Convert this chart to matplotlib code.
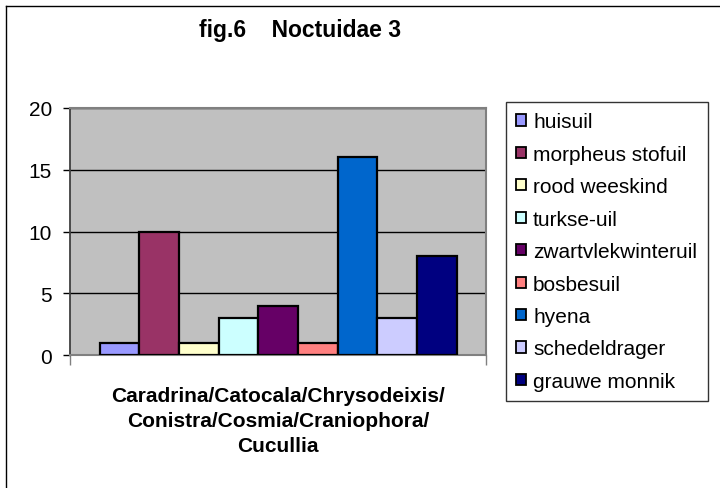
import matplotlib
matplotlib.use("Agg")
import matplotlib.pyplot as plt
from matplotlib.lines import Line2D

plt.rcParams['font.family'] = ['Liberation Sans', 'DejaVu Sans']

# data
soorten = ['huisuil', 'morpheus stofuil', 'rood weeskind', 'turkse-uil',
           'zwartvlekwinteruil', 'bosbesuil', 'hyena', 'schedeldrager',
           'grauwe monnik']
aantallen = [1, 10, 1, 3, 4, 1, 16, 3, 8]
kleuren = ['#9999FF', '#993366', '#FFFFCC', '#CCFFFF', '#660066',
           '#FF8080', '#0066CC', '#CCCCFF', '#000080']
y_ticks = [0, 5, 10, 15, 20]
categorie = 'Caradrina/Catocala/Chrysodeixis/\nConistra/Cosmia/Craniophora/\nCucullia'

W, H = 720, 489
fig = plt.figure(figsize=(W / 100, H / 100), dpi=100)
fig.patch.set_facecolor('white')

# chart border (only top and left edges visible, image is cropped)
fig.lines.append(Line2D([6 / W, 6 / W], [0, 1 - 7 / H], transform=fig.transFigure,
                        color='black', linewidth=1.0))
fig.lines.append(Line2D([6 / W, 1], [1 - 7 / H, 1 - 7 / H], transform=fig.transFigure,
                        color='black', linewidth=1.0))

ax = fig.add_axes([70 / W, 1 - 356 / H, (486 - 70) / W, (356 - 109) / H])
ax.set_facecolor('#C0C0C0')

n = len(aantallen)
groep = 357 / 416
bw = groep / n
start = -groep / 2 + bw / 2
for i, (s, v, c) in enumerate(zip(soorten, aantallen, kleuren)):
    ax.bar(start + i * bw, v, width=bw, color=c, edgecolor='black',
           linewidth=1.6, label=s, zorder=3)

ax.set_xlim(-0.5, 0.5)
ax.set_ylim(0, 20)
ax.set_yticks(y_ticks)
ax.set_yticklabels([str(t) for t in y_ticks], fontsize=15)
ax.yaxis.grid(True, color='black', linewidth=1.0, zorder=1)
ax.set_axisbelow(True)
ax.set_xticks([-0.5, 0.5])
ax.set_xticklabels(['', ''])
ax.tick_params(axis='x', direction='out', length=7, width=1, color='#808080')
ax.tick_params(axis='y', direction='out', length=5, width=1, color='black', pad=8)

for side in ['top', 'right', 'bottom']:
    ax.spines[side].set_color('#808080')
    ax.spines[side].set_linewidth(1.5)
ax.spines['left'].set_color('#404040')
ax.spines['left'].set_linewidth(1.3)

ax.text(0.5, -0.125, categorie, transform=ax.transAxes, ha='center', va='top',
        fontsize=15, fontweight='bold', linespacing=1.4)

fig.text(300 / W, 1 - 31 / H, 'fig.6    Noctuidae 3', ha='center', va='center',
         fontsize=16.5, fontweight='bold')

leg = fig.legend(loc='upper left', bbox_to_anchor=(506 / W, 1 - 103 / H),
                 borderaxespad=0, fontsize=15, frameon=True, fancybox=False,
                 handlelength=0.45, handleheight=0.45, handletextpad=0.35,
                 labelspacing=0.645, borderpad=0.5)
leg.get_frame().set_edgecolor('black')
leg.get_frame().set_linewidth(1.0)
for p in leg.get_patches():
    p.set_linewidth(1.3)

fig.savefig('out.png', dpi=100)
